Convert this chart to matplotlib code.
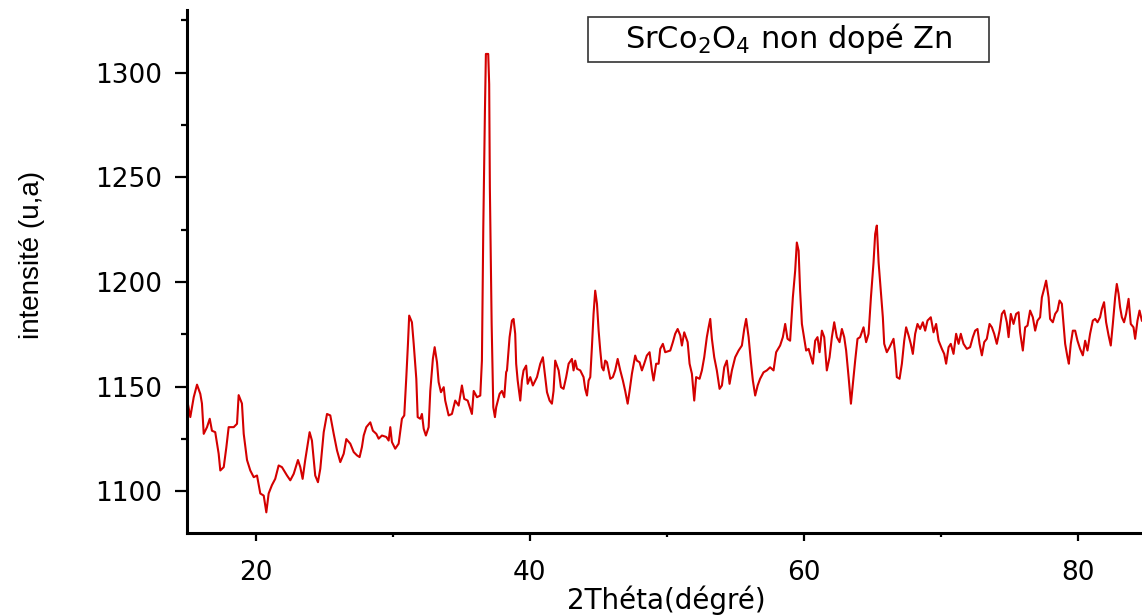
import matplotlib
matplotlib.use("Agg")
import matplotlib.pyplot as plt
from matplotlib.patches import Rectangle

two_theta = [
    15.00, 15.22, 15.47, 15.71, 15.95, 16.07, 16.20, 16.44, 16.64, 16.80, 17.04, 17.29, 17.41, 17.66, 17.85,
    18.02, 18.39, 18.63, 18.75, 18.99, 19.12, 19.36, 19.60, 19.85, 20.09, 20.33, 20.58, 20.77, 20.94, 21.18,
    21.42, 21.67, 21.91, 22.28, 22.52, 22.77, 23.08, 23.25, 23.42, 23.61, 23.93, 24.10, 24.34, 24.54, 24.71,
    24.96, 25.20, 25.44, 25.69, 25.93, 26.17, 26.42, 26.61,
    26.90, 27.15, 27.39, 27.58, 27.75, 27.88, 28.07, 28.36, 28.55, 28.80, 28.97, 29.21, 29.53, 29.70, 29.82,
    29.94, 30.18, 30.43, 30.67, 30.84, 30.99, 31.11, 31.20, 31.40, 31.53, 31.72, 31.82, 32.01, 32.13, 32.26,
    32.42, 32.62, 32.74, 32.93, 33.06, 33.23, 33.35, 33.52, 33.72, 33.83, 34.08, 34.32, 34.56, 34.81, 35.05,
    35.22, 35.47, 35.78, 35.91, 36.15, 36.39, 36.51, 36.61, 36.73, 36.80, 36.97, 37.04, 37.09, 37.22, 37.34,
    37.46, 37.55, 37.80, 37.97, 38.14, 38.28,
    38.34, 38.53, 38.70, 38.82, 38.94, 39.01, 39.12, 39.31, 39.43, 39.55, 39.74, 39.85, 40.04, 40.23, 40.53,
    40.77, 40.96, 41.13, 41.26, 41.45, 41.62, 41.74, 41.86, 41.99, 42.11, 42.28, 42.47, 42.66, 42.84, 43.08,
    43.20, 43.32, 43.45, 43.69, 43.93, 44.05, 44.18, 44.30, 44.42, 44.54, 44.66, 44.78, 44.91, 45.03, 45.15,
    45.27, 45.39, 45.51, 45.64, 45.76, 45.88, 46.07, 46.24, 46.42, 46.61, 46.80, 46.97, 47.15, 47.29, 47.46,
    47.70, 47.82, 48.02, 48.19, 48.36, 48.55, 48.75, 48.92, 49.04, 49.23, 49.41, 49.53, 49.72, 49.89,
    50.26, 50.45, 50.62, 50.80, 50.99, 51.11, 51.28, 51.53, 51.67, 51.84, 52.01, 52.15, 52.40, 52.57, 52.74,
    52.93, 53.06, 53.18, 53.30, 53.47, 53.66, 53.86, 54.03, 54.20, 54.39, 54.59, 54.76, 55.00, 55.25, 55.49,
    55.66, 55.80, 55.98, 56.15, 56.29, 56.46, 56.64, 56.82, 57.07, 57.31, 57.55, 57.80, 57.99, 58.28, 58.48,
    58.65, 58.82, 59.01, 59.21, 59.38, 59.50, 59.63, 59.74, 59.87, 60.04, 60.18, 60.36, 60.53, 60.67, 60.84,
    61.01, 61.16, 61.33, 61.50, 61.69,
    61.89, 62.06, 62.23, 62.42, 62.62, 62.79, 62.96, 63.10, 63.28, 63.45, 63.59, 63.76, 63.93, 64.12, 64.37,
    64.56, 64.74, 64.91, 65.10, 65.22, 65.34, 65.47, 65.63, 65.78, 65.88, 66.07, 66.27, 66.44, 66.56, 66.68,
    66.80, 67.00, 67.17, 67.34, 67.48, 67.66, 67.82, 67.97, 68.14, 68.31, 68.50, 68.70, 68.87, 69.04, 69.28,
    69.48, 69.67, 69.85, 70.09, 70.26, 70.40, 70.58, 70.74, 70.94, 71.13, 71.31, 71.47, 71.67, 71.91, 72.15,
    72.35, 72.52, 72.69, 72.84, 73.01, 73.18, 73.37,
    73.57, 73.74, 73.91, 74.10, 74.30, 74.47, 74.64, 74.83, 74.96, 75.12, 75.32, 75.51, 75.69, 75.80, 76.00,
    76.17, 76.34, 76.53, 76.73, 76.90, 77.07, 77.26, 77.39, 77.55, 77.70, 77.88, 77.99, 78.19, 78.36, 78.53,
    78.68, 78.85, 78.97, 79.09, 79.26, 79.36, 79.50, 79.65, 79.82, 79.99, 80.18, 80.38, 80.55, 80.72, 80.91,
    81.11, 81.28, 81.45, 81.64, 81.77, 81.93, 82.08, 82.26, 82.42, 82.57, 82.74, 82.86, 82.99, 83.10, 83.23,
    83.39, 83.54, 83.72, 83.88, 84.08, 84.20, 84.37, 84.52, 84.69,
]

intensity = [
    1143.4, 1135.5, 1145.0, 1151.0, 1146.6, 1142.0, 1127.5, 1130.7, 1134.7, 1129.0, 1128.3, 1118.0, 1110.0, 1111.6, 1121.0,
    1130.7, 1130.7, 1132.3, 1146.0, 1142.0, 1127.5, 1115.0, 1110.0, 1106.8, 1107.6, 1099.0, 1098.0, 1090.0, 1099.0, 1103.0,
    1106.0, 1112.4, 1111.6, 1107.6, 1105.3, 1108.4, 1115.0, 1111.6, 1106.0, 1115.0, 1128.3, 1124.3, 1107.6, 1104.4, 1110.8,
    1128.3, 1137.0, 1136.3, 1127.5, 1119.6, 1114.0, 1118.0, 1125.0,
    1122.8, 1118.8, 1117.2, 1116.4, 1121.2, 1126.7, 1130.7, 1133.0, 1129.0, 1127.5, 1125.2, 1126.7, 1126.0, 1124.3, 1130.7,
    1123.6, 1120.4, 1122.8, 1134.7, 1136.3, 1154.6, 1170.5, 1184.0, 1180.8, 1170.5, 1153.8, 1135.5, 1134.7, 1137.0, 1129.9,
    1126.7, 1130.7, 1148.0, 1163.3, 1168.9, 1161.7, 1152.2, 1147.4, 1149.8, 1143.4, 1136.3, 1137.0, 1143.4, 1141.0, 1150.6,
    1144.2, 1143.4, 1137.0, 1148.0, 1145.0, 1145.8, 1162.5, 1226.0, 1281.9, 1309.0, 1309.0, 1294.6, 1245.0, 1180.0, 1140.2,
    1135.5, 1140.2, 1146.6, 1148.0, 1145.0, 1157.0,
    1157.8, 1173.7, 1181.6, 1182.4, 1175.3, 1161.0, 1153.0, 1143.4, 1153.0, 1157.8, 1160.1, 1151.4, 1154.6, 1150.6, 1154.6,
    1161.0, 1164.1, 1154.6, 1147.4, 1143.4, 1141.9, 1148.0, 1162.5, 1160.1, 1157.8, 1149.8, 1149.0, 1154.6, 1161.0, 1163.3,
    1157.8, 1162.5, 1158.6, 1157.8, 1154.6, 1149.0, 1145.8, 1153.0, 1154.6, 1168.9, 1184.8, 1195.9, 1189.6, 1176.8, 1167.3,
    1159.3, 1157.8, 1162.5, 1161.7, 1157.8, 1153.8, 1154.6, 1157.8, 1163.3, 1157.8, 1153.0, 1148.0, 1141.9, 1148.0, 1156.2,
    1164.9, 1162.5, 1161.7, 1157.8, 1161.0, 1164.9, 1166.5, 1157.8, 1153.0, 1161.0, 1161.0, 1168.1, 1170.5, 1166.5,
    1167.3, 1171.3, 1175.3, 1177.6, 1174.5, 1169.7, 1176.0, 1171.3, 1161.0, 1156.2, 1143.4, 1154.6, 1153.8, 1157.8, 1164.1,
    1173.7, 1178.4, 1182.4, 1172.9, 1164.1, 1157.8, 1149.0, 1150.6, 1159.3, 1162.5, 1151.4, 1157.8, 1164.1, 1167.3, 1169.7,
    1177.6, 1182.4, 1173.7, 1161.7, 1153.0, 1145.8, 1150.6, 1153.8, 1156.9, 1157.8, 1159.3, 1157.8, 1166.5, 1169.7, 1173.7,
    1180.0, 1172.9, 1172.0, 1192.7, 1205.5, 1218.9, 1215.0, 1196.0, 1180.0, 1172.9, 1167.3, 1168.1, 1164.1, 1161.0, 1172.0,
    1173.7, 1166.5, 1176.8, 1173.7, 1157.8,
    1164.1, 1173.7, 1180.8, 1173.7, 1171.3, 1177.6, 1173.7, 1167.3, 1154.6, 1141.9, 1151.4, 1162.5, 1172.9, 1173.7, 1178.4,
    1171.3, 1175.3, 1192.7, 1209.4, 1223.0, 1227.0, 1209.4, 1196.0, 1183.2, 1170.5, 1166.5, 1168.9, 1171.3, 1172.9, 1165.7,
    1154.6, 1153.8, 1161.0, 1172.0, 1178.4, 1174.5, 1170.5, 1165.7, 1175.3, 1180.0, 1177.6, 1180.8, 1176.8, 1181.6, 1183.2,
    1176.0, 1180.0, 1172.0, 1168.1, 1165.7, 1161.0, 1168.9, 1170.5, 1165.7, 1175.3, 1170.5, 1175.3, 1170.5, 1168.1, 1168.9,
    1173.7, 1176.8, 1177.6, 1170.5, 1165.0, 1171.3, 1172.9,
    1180.0, 1178.4, 1175.3, 1170.5, 1176.8, 1184.8, 1186.4, 1180.8, 1173.7, 1184.8, 1180.0, 1184.8, 1185.6, 1176.0, 1167.3,
    1178.4, 1179.2, 1186.4, 1183.2, 1176.8, 1181.6, 1183.2, 1192.7, 1196.7, 1200.7, 1192.7, 1182.4, 1180.8, 1184.8, 1186.4,
    1191.2, 1189.6, 1180.0, 1170.5, 1164.1, 1161.0, 1170.5, 1176.8, 1176.8, 1172.0, 1168.1, 1165.0, 1172.0, 1167.3, 1175.3,
    1181.6, 1182.4, 1180.8, 1183.2, 1187.2, 1190.4, 1180.8, 1174.5, 1169.7, 1180.0, 1192.7, 1199.1, 1194.4, 1188.0, 1183.2,
    1180.8, 1184.8, 1192.0, 1180.0, 1178.4, 1172.9, 1181.6, 1186.4, 1181.6,
]

x_major_ticks = [20, 40, 60, 80]
x_minor_ticks = [30, 50, 70]
y_major_ticks = [1100, 1150, 1200, 1250, 1300]
y_minor_ticks = [1125, 1175, 1225, 1275, 1325]

x_label = "2Théta(dégré)"
y_label = "intensité (u,a)"
legend_text = r"SrCo$_2$O$_4$ non dopé Zn"

plt.rcParams['font.family'] = ['DejaVu Sans']
plt.rcParams['mathtext.fontset'] = 'dejavusans'

fig = plt.figure(figsize=(11.42, 6.16), dpi=100)
ax = fig.add_axes([0.164, 0.1343, 0.836, 0.8495])

ax.plot(two_theta, intensity, color='#d40000', lw=1.5)

ax.set_xlim(15, 84.7)
ax.set_ylim(1080, 1330)
ax.set_xticks(x_major_ticks)
ax.set_xticks(x_minor_ticks, minor=True)
ax.set_yticks(y_major_ticks)
ax.set_yticks(y_minor_ticks, minor=True)

for s in ['top', 'right']:
    ax.spines[s].set_visible(False)
for s in ['left', 'bottom']:
    ax.spines[s].set_linewidth(2.2)

ax.tick_params(axis='y', which='major', length=9, width=1.6, labelsize=19, pad=9)
ax.tick_params(axis='y', which='minor', length=4, width=1.6)
ax.tick_params(axis='x', which='major', length=6, width=1.6, labelsize=19, pad=13)
ax.tick_params(axis='x', which='minor', length=3, width=1.6)

ax.set_xlabel(x_label, fontsize=20)
ax.xaxis.set_label_coords(0.502, -0.099)
ax.set_ylabel(y_label, fontsize=20, family=['Liberation Sans'])
ax.yaxis.set_label_coords(-0.149, 0.532)

rect = Rectangle((0.42, 0.9006), 0.42, 0.086, transform=ax.transAxes,
                 fill=False, edgecolor='#333333', lw=1.2)
ax.add_patch(rect)
ax.text(0.63, 0.945, legend_text, transform=ax.transAxes, ha='center', va='center', fontsize=22)

fig.savefig('out.png', dpi=100)
